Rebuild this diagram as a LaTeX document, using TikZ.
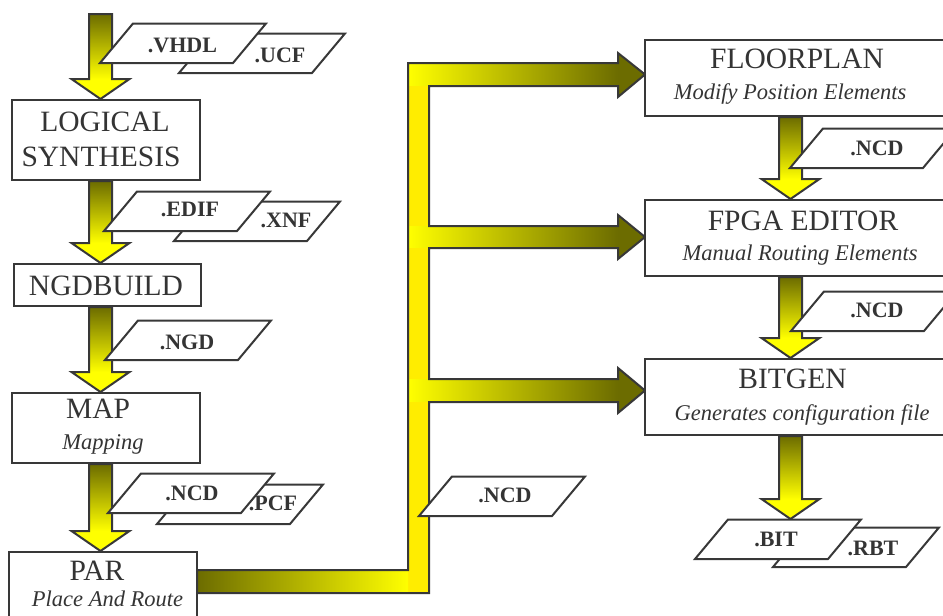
\documentclass[tikz,border=0pt]{standalone}
\usepackage{fontspec}
\setmainfont{Liberation Serif}
\usetikzlibrary{calc}

\definecolor{ink}{RGB}{52,52,52}
\definecolor{edge}{RGB}{56,56,56}
\definecolor{olv}{RGB}{108,108,0}
\definecolor{yel}{RGB}{255,255,0}
\definecolor{trunkyel}{RGB}{255,237,0}

\pgfdeclarelayer{bg}
\pgfsetlayers{bg,main}

\tikzset{
  outl/.style={draw=edge, line width=2pt, line join=miter},
  stepbox/.style={rectangle, draw=edge, line width=2pt, fill=white, inner sep=0pt},
  title/.style={font=\fontsize{29.5}{32}\selectfont, text=ink, inner sep=0pt, anchor=base},
  subtitle/.style={font=\fontsize{22.5}{24}\selectfont\itshape, text=ink, inner sep=0pt, anchor=base},
  ftag/.style={font=\fontsize{22}{23}\selectfont\bfseries, text=ink, inner sep=0pt, anchor=base},
}

% thick shaded down arrow: #1 start point, #2 tip point
\newcommand\dnarrow[2]{%
  \coordinate (as) at #1;
  \coordinate (ae) at #2;
  \coordinate (ah) at ($(ae)+(0,-20)$);
  \shade[top color=olv, bottom color=yel] ($(as)+(-11.5,0)$) rectangle ($(ah)+(11.5,0)$);
  \fill[yel] ($(ah)+(-29,0)$) -- ($(ah)+(29,0)$) -- (ae) -- cycle;
  \draw[outl] ($(as)+(-11.5,0)$) -- ($(ah)+(-11.5,0)$) -- ($(ah)+(-29,0)$) -- (ae)
    -- ($(ah)+(29,0)$) -- ($(ah)+(11.5,0)$) -- ($(as)+(11.5,0)$) -- cycle;
}

% file tag: #1 name, #2 lower left corner, #3 text, #4 text base point
\newcommand\filebox[4]{%
  \draw[outl, fill=white] (#2) -- ++(133,0) -- ++(33,-39.5) -- ++(-133,0) -- cycle;
  \node[ftag] (#1) at (#4) {#3};
}

\begin{document}
\begin{tikzpicture}[x=1pt, y=-1pt]
\useasboundingbox (0,0) rectangle (943,616);
\clip (0,0) rectangle (943,616);

% shaft positions of the two columns
\coordinate (xl) at (100.5,0);
\coordinate (xr) at (790.5,0);
\coordinate (src) at (100.5,14);
\coordinate (bitin) at (790.5,519);

% left column
\node[stepbox, minimum width=188pt, minimum height=80pt] (ls) at (106,140) {};
\node[stepbox, minimum width=187pt, minimum height=42pt] (ngdb) at (107.5,285) {};
\node[stepbox, minimum width=188pt, minimum height=70pt] (map) at (106,428) {};
\node[stepbox, minimum width=188pt, minimum height=78pt] (par) at (103,591) {};

% right column
\node[stepbox, minimum width=304pt, minimum height=76pt] (floor) at (797,78) {};
\node[stepbox, minimum width=304pt, minimum height=76pt] (fpga) at (797,238) {};
\node[stepbox, minimum width=304pt, minimum height=76pt] (bitgen) at (797,397) {};

\begin{pgfonlayer}{bg}
  \dnarrow{(src)}{(ls.north -| xl)}
  \dnarrow{(ls.south -| xl)}{(ngdb.north -| xl)}
  \dnarrow{(ngdb.south -| xl)}{(map.north -| xl)}
  \dnarrow{(map.south -| xl)}{(par.north -| xl)}
  \dnarrow{(floor.south -| xr)}{(fpga.north -| xr)}
  \dnarrow{(fpga.south -| xr)}{(bitgen.north -| xr)}
  \dnarrow{(bitgen.south -| xr)}{(bitin)}

  % distribution bus from PAR to the three tools
  \fill[trunkyel] (408,63) rectangle (429,593);
  \shade[left color=olv, right color=yel] (197,570) rectangle (408,593);
  \shade[left color=yel, right color=olv] (408,63) rectangle (618,86);
  \shade[left color=yel, right color=olv] (408,226) rectangle (618,248);
  \shade[left color=yel, right color=olv] (408,379) rectangle (618,402);
  \fill[trunkyel] (408,86) rectangle (429,226);
  \fill[trunkyel] (408,248) rectangle (429,379);
  \fill[trunkyel] (408,402) rectangle (429,570);
  \fill[olv] (618,53) -- (645,74.5) -- (618,97) -- cycle;
  \fill[olv] (618,215) -- (645,237) -- (618,259) -- cycle;
  \fill[olv] (618,368) -- (645,390.5) -- (618,413) -- cycle;
  \draw[outl] (408,63) -- (618,63) -- (618,53) -- (645,74.5) -- (618,97) -- (618,86)
    -- (429,86) -- (429,226) -- (618,226) -- (618,215) -- (645,237) -- (618,259) -- (618,248)
    -- (429,248) -- (429,379) -- (618,379) -- (618,368) -- (645,390.5) -- (618,413) -- (618,402)
    -- (429,402) -- (429,593) -- (197,593) -- (197,570) -- (408,570) -- cycle;
\end{pgfonlayer}

% step titles
\node[title] (ls-a) at (105,131.7) {LOGICAL};
\node[title] (ls-b) at (101,166.7) {SYNTHESIS};
\node[title] (ngdb-t) at (106,295) {NGDBUILD};
\node[title] (map-t) at (98,418) {MAP};
\node[subtitle] (map-s) at (103,449) {Mapping};
\node[title] (par-t) at (97,580) {PAR};
\node[subtitle] (par-s) at (107.5,606) {Place And Route};
\node[title] (floor-t) at (797,68) {FLOORPLAN};
\node[subtitle] (floor-s) at (790,99) {Modify Position Elements};
\node[title] (fpga-t) at (803,230) {FPGA EDITOR};
\node[subtitle] (fpga-s) at (800,260) {Manual Routing Elements};
\node[title] (bitgen-t) at (792.5,388) {BITGEN};
\node[subtitle] (bitgen-s) at (802,420) {Generates configuration file};

% file tags
\filebox{ucf}{179,73}{.UCF}{280,62.7}
\filebox{vhdl}{100,63}{.VHDL}{182.5,52.7}
\filebox{xnf}{174,241}{.XNF}{286,227}
\filebox{edif}{104,231}{.EDIF}{190,216.7}
\filebox{ngd}{105,360}{.NGD}{187,349}
\filebox{pcf}{157,524}{.PCF}{273,510.7}
\filebox{ncdl}{108,513}{.NCD}{192,500.7}
\filebox{ncdm}{419,516}{.NCD}{505,502.7}
\filebox{ncda}{790,168}{.NCD}{877,155}
\filebox{ncdb}{791,331}{.NCD}{877,317.7}
\filebox{rbt}{773,567}{.RBT}{873,555}
\filebox{bit}{695,559}{.BIT}{776,546.7}
\end{tikzpicture}
\end{document}
